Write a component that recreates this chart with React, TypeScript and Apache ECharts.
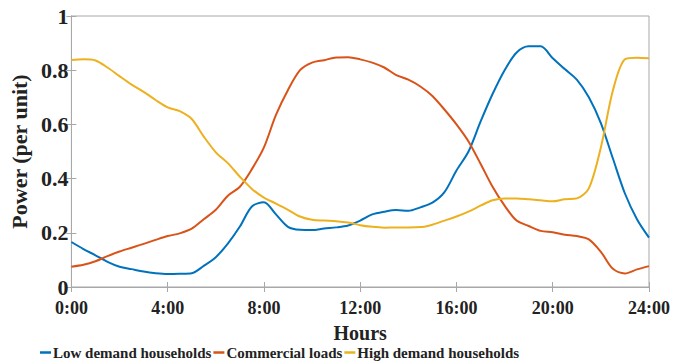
import React, { useEffect, useRef } from "react";
import * as echarts from "echarts";

const hours: number[] = Array.from({ length: 49 }, (_, i) => i * 0.5);

const lowDemand: number[] = [
  0.166, 0.14, 0.117, 0.093, 0.075, 0.066, 0.057, 0.051, 0.048, 0.049,
  0.051, 0.078, 0.11, 0.16, 0.223, 0.297, 0.313, 0.268, 0.222, 0.211,
  0.21, 0.216, 0.22, 0.227, 0.245, 0.268, 0.278, 0.284, 0.281, 0.294,
  0.311, 0.35, 0.43, 0.5, 0.61, 0.712, 0.8, 0.865, 0.888, 0.888,
  0.844, 0.804, 0.765, 0.7, 0.605, 0.474, 0.345, 0.25, 0.182,
];

const commercial: number[] = [
  0.075, 0.082, 0.095, 0.114, 0.131, 0.145, 0.159, 0.174, 0.188, 0.198,
  0.215, 0.25, 0.285, 0.337, 0.37, 0.435, 0.515, 0.635, 0.727, 0.8,
  0.828, 0.837, 0.847, 0.848, 0.84, 0.828, 0.81, 0.782, 0.765, 0.74,
  0.705, 0.655, 0.6, 0.537, 0.455, 0.37, 0.3, 0.245, 0.225, 0.207,
  0.202, 0.193, 0.188, 0.176, 0.13, 0.067, 0.05, 0.065, 0.077,
];

const highDemand: number[] = [
  0.838, 0.84, 0.836, 0.81, 0.778, 0.747, 0.72, 0.69, 0.663, 0.649,
  0.62, 0.555, 0.497, 0.457, 0.407, 0.362, 0.33, 0.308, 0.285, 0.26,
  0.248, 0.245, 0.243, 0.238, 0.228, 0.222, 0.219, 0.22, 0.22, 0.221,
  0.23, 0.245, 0.26, 0.278, 0.3, 0.32, 0.327, 0.327, 0.324, 0.32,
  0.316, 0.324, 0.327, 0.364, 0.515, 0.725, 0.84, 0.846, 0.844,
];

const seriesNames: string[] = [
  "Low demand households",
  "Commercial loads",
  "High demand households",
];
const colors: string[] = ["#0072BD", "#D95319", "#EDB120"];

const FONT = "'Liberation Serif', 'Times New Roman', serif";
const TXT = "#222222";
const BOX = "#a8a8a8";

export default function App() {
  const ref = useRef<HTMLDivElement>(null);
  useEffect(() => {
    if (!ref.current) return;
    const chart = echarts.init(ref.current, undefined, { renderer: "svg" });
    const dataSets = [lowDemand, commercial, highDemand];
    chart.setOption({
      animation: false,
      grid: {
        left: 65,
        right: 25,
        top: 16,
        bottom: 77,
        show: true,
        borderColor: BOX,
        borderWidth: 1,
      },
      legend: {
        top: 345,
        left: 40,
        padding: 0,
        icon: "rect",
        itemWidth: 11,
        itemHeight: 2.5,
        itemGap: 2,
        textStyle: {
          fontFamily: FONT,
          fontWeight: "bold",
          fontSize: 15,
          color: TXT,
          padding: [0, 0, 0, -3],
        },
        data: seriesNames,
      },
      xAxis: [
        {
          type: "value",
          min: 0,
          max: 24,
          interval: 4,
          name: "Hours",
          nameLocation: "middle",
          nameGap: 36,
          nameTextStyle: {
            fontFamily: FONT,
            fontWeight: "bold",
            fontSize: 20,
            color: TXT,
          },
          axisLine: { show: true, lineStyle: { color: BOX } },
          axisTick: { show: true, inside: true, length: 5, lineStyle: { color: BOX } },
          axisLabel: {
            fontFamily: FONT,
            fontWeight: "bold",
            fontSize: 18,
            color: TXT,
            margin: 12,
            formatter: (v: number) => `${v}:00`,
          },
          splitLine: { show: false },
        },
        {
          type: "value",
          position: "top",
          min: 0,
          max: 24,
          interval: 4,
          axisLine: { show: true, lineStyle: { color: BOX } },
          axisTick: { show: true, inside: true, length: 5, lineStyle: { color: BOX } },
          axisLabel: { show: false },
          splitLine: { show: false },
        },
      ],
      yAxis: [
        {
          type: "value",
          min: 0,
          max: 1,
          interval: 0.2,
          name: "Power (per unit)",
          nameLocation: "middle",
          nameGap: 31,
          nameTextStyle: {
            fontFamily: FONT,
            fontWeight: "bold",
            fontSize: 22,
            color: TXT,
          },
          axisLine: { show: true, lineStyle: { color: BOX } },
          axisTick: { show: true, inside: true, length: 5, lineStyle: { color: BOX } },
          axisLabel: {
            fontFamily: FONT,
            fontWeight: "bold",
            fontSize: 22,
            color: TXT,
            margin: 3,
            lineHeight: 18,
          },
          splitLine: { show: false },
        },
        {
          type: "value",
          position: "right",
          min: 0,
          max: 1,
          interval: 0.2,
          axisLine: { show: true, lineStyle: { color: BOX } },
          axisTick: { show: true, inside: true, length: 5, lineStyle: { color: BOX } },
          axisLabel: { show: false },
          splitLine: { show: false },
        },
      ],
      series: seriesNames.map((name, si) => ({
        name,
        type: "line",
        xAxisIndex: 0,
        yAxisIndex: 0,
        showSymbol: false,
        symbol: "none",
        smooth: 0.3,
        color: colors[si],
        lineStyle: { width: 2, color: colors[si] },
        data: hours.map((h, i) => [h, dataSets[si][i]]),
      })),
    });
    return () => chart.dispose();
  }, []);
  return (
    <div
      ref={ref}
      style={{ position: "fixed", left: 0, top: 0, width: 674, height: 364, background: "#fff" }}
    />
  );
}
